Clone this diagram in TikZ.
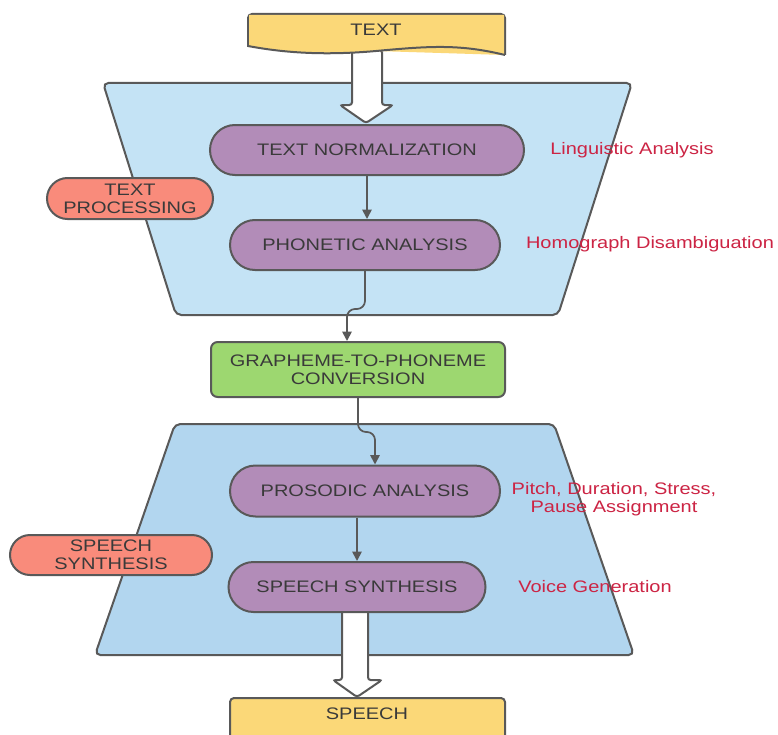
\documentclass[tikz,border=0pt]{standalone}
\usepackage{fontspec}
\setmainfont{Liberation Sans}[FakeStretch=1.2]
\usetikzlibrary{arrows.meta,shapes.misc,calc}

\definecolor{edgegray}{HTML}{595959}
\definecolor{inktext}{HTML}{3A3A3A}
\definecolor{bandtop}{HTML}{C4E3F5}
\definecolor{bandlow}{HTML}{B2D6EF}
\definecolor{stepfill}{HTML}{B28CB8}
\definecolor{convfill}{HTML}{9DD770}
\definecolor{tagfill}{HTML}{F98B7B}
\definecolor{docfill}{HTML}{FBD878}
\definecolor{notered}{HTML}{CC2444}

\tikzset{
  base/.style={font=\fontsize{12.5}{13.5}\selectfont, text=inktext, align=center},
  outline/.style={draw=edgegray, line width=1.5pt},
  stepbox/.style={base, outline, rounded rectangle, fill=stepfill, inner sep=0pt},
  convbox/.style={base, outline, rectangle, rounded corners=5pt, fill=convfill, inner sep=0pt},
  tagbox/.style={base, outline, rounded rectangle, fill=tagfill, inner sep=0pt},
  doclabel/.style={base},
  note/.style={font=\fontsize{12.5}{13.5}\selectfont, text=notered, align=center},
  band/.style={outline, rounded corners=4pt},
  hollow/.style={outline, fill=white, rounded corners=2pt},
  doc/.style={outline, fill=docfill},
  link/.style={draw=edgegray, line width=1.3pt, rounded corners=6pt,
    -{Triangle[length=7pt,width=7pt]}}
}

\begin{document}
\begin{tikzpicture}[x=0.75pt,y=-0.75pt]
  \clip (0,0) rectangle (778,735);
  \fill[white] (0,0) rectangle (778,735);

  % processing bands
  \draw[band, fill=bandtop] (103,83) -- (632,83) -- (558,315) -- (176,315) -- cycle;
  \draw[band, fill=bandlow] (175,424) -- (554,424) -- (634,655) -- (95,655) -- cycle;

  % wide input / output arrows
  \draw[hollow] (352,50) -- (352,105) -- (340,105) -- (366,123) -- (393,105)
    -- (382,105) -- (382,50) -- cycle;
  \draw[hollow] (342,605) -- (342,680) -- (333,680) -- (357,697) -- (382,680)
    -- (368,680) -- (368,605) -- cycle;

  % input document
  \draw[doc, rounded corners=3pt] (248,47) -- (248,14) -- (505,14) -- (505,55);
  \fill[docfill] (249,47) -- (249,15) -- (504,15) -- (504,54)
    .. controls (460,44) and (430,46) .. (376,51)
    .. controls (320,56) and (280,52) .. (249,46) -- cycle;
  \draw[outline] (505,55) .. controls (460,44) and (430,46) .. (376,51)
    .. controls (320,56) and (280,52) .. (248,46);
  \draw[outline, line cap=round] (248,46) -- (248,40);
  \node[doclabel] (txt) at (376,30) {TEXT};

  % output document
  \draw[doc, rounded corners=3pt] (230,750) -- (230,698) -- (505,698) -- (505,750);
  \node[doclabel] (speech) at (367,714) {SPEECH};

  % steps
  \node[stepbox, minimum width=235.5pt, minimum height=37.5pt] (norm) at (367,150) {TEXT NORMALIZATION};
  \node[stepbox, minimum width=202.5pt, minimum height=37.5pt] (phon) at (365,245) {PHONETIC ANALYSIS};
  \node[convbox, minimum width=220.5pt, minimum height=41.25pt] (g2p) at (358,369.5) {GRAPHEME-TO-PHONEME\\CONVERSION};
  \node[stepbox, minimum width=202.5pt, minimum height=38.25pt] (pros) at (365,491) {PROSODIC ANALYSIS};
  \node[stepbox, minimum width=192.75pt, minimum height=37.5pt] (synth) at (357,587) {SPEECH SYNTHESIS};

  % stage tags
  \node[tagbox, minimum width=124.5pt, minimum height=30.75pt] (tproc) at (130,198.5) {TEXT\\PROCESSING};
  \node[tagbox, minimum width=151.5pt, minimum height=30pt] (ssyn) at (111,555) {SPEECH\\SYNTHESIS};

  % notes
  \node[note] (ling) at (632,150) {Linguistic Analysis};
  \node[note] (homo) at (650,244) {Homograph Disambiguation};
  \node[note] (pitch) at (614,499) {Pitch, Duration, Stress,\\Pause Assignment};
  \node[note] (voice) at (595,587) {Voice Generation};

  % connectors
  \draw[link] (norm.south) -- (norm.south |- phon.north);
  \draw[link] (phon.south) -- ++(0,38) -| ($(g2p.north)+(-11,0)$);
  \draw[link] (g2p.south) -- ++(0,34) -| ($(pros.north)+(10,0)$);
  \draw[link] (pros.south -| synth.north) -- (synth.north);
\end{tikzpicture}
\end{document}
